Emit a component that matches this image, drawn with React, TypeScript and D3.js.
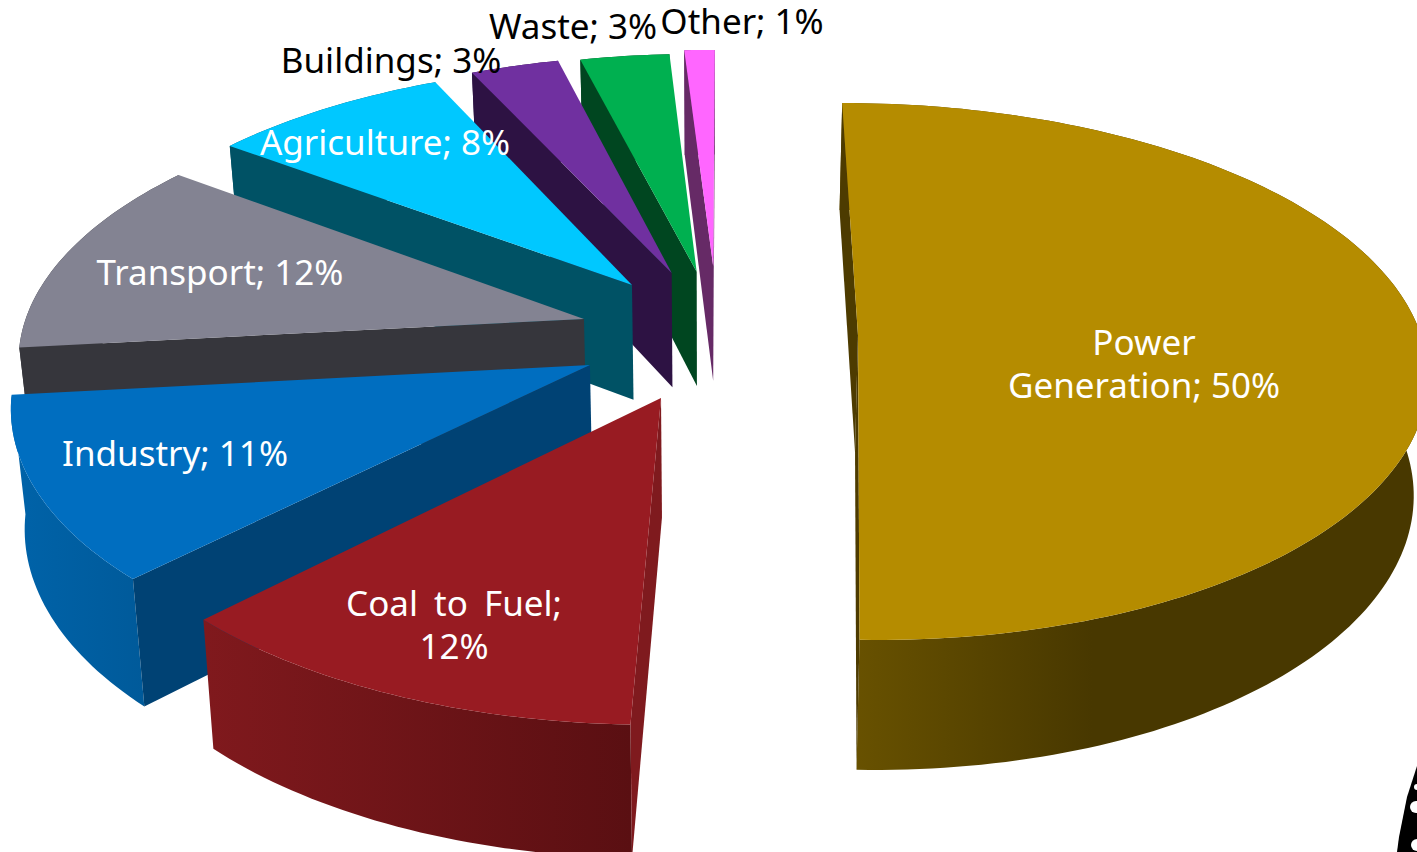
import React from "react";
import * as d3 from "d3";

// ---- data ----
const categories = ["Power Generation", "Coal to Fuel", "Industry", "Transport", "Agriculture", "Buildings", "Waste", "Other"];
const shares = [50.47, 11.94, 10.86, 11.97, 7.89, 2.92, 2.94, 1.0];
const shownPercents = [50, 12, 11, 12, 8, 3, 3, 1];

// ---- styles ----
const topColors = ["#b58c00", "#981b22", "#006ec0", "#838392", "#00c8ff", "#7030a0", "#00b050", "#ff66ff"];
const edgeColors = ["#4d3b00", "#7f1a1e", "#004274", "#36363c", "#005265", "#2d1243", "#004620", "#662a66"];
const rimLeft = ["#6a5300", "#80191d", "#0063a9", "#36363c", "#005265", "#2d1243", "#004620", "#662a66"];
const rimRight = ["#483800", "#5a0f12", "#005a9a", "#36363c", "#005265", "#2d1243", "#004620", "#662a66"];
const labelColors = ["#fff", "#fff", "#fff", "#fff", "#fff", "#000", "#000", "#000"];
const labelLines = [
  ["Power", `Generation; ${shownPercents[0]}%`],
  ["Coal to Fuel;", `${shownPercents[1]}%`],
  [`Industry; ${shownPercents[2]}%`],
  [`Transport; ${shownPercents[3]}%`],
  [`Agriculture; ${shownPercents[4]}%`],
  [`Buildings; ${shownPercents[5]}%`],
  [`Waste; ${shownPercents[6]}%`],
  [`Other; ${shownPercents[7]}%`],
];
const labelX = [1144, 454, 175, 220, 385, 391, 573, 742];
const labelY = [354.5, 616, 466, 285, 155, 73, 39, 34];
const labelWordGap = [0, 7, 0, 0, 0, 0, 0, 0];

// ---- projection: ground plane with perspective, explosion and a thick base ----
const W = 1417;
const H = 852;
const radiusU = 563;
const radiusV = 263.5;
const centreU = 719;
const explodeU = 143;
const explodeV = 67;
const nudgeU = [-4, 0.4, 1.8, 1.7, 0.3, -1.5, -1.2, -1.7];
const nudgeV = [1, 0.6, -0.4, -1.6, -0.8, 0.8, -0.8, 3.8];
const nearFarStretch = 0.0115;
const horizonDepth = 1939;
const vanishX = 726;
const anchorY = 335;
const uScale = d3.scaleLinear().domain([-1, 1]).range([-radiusU, radiusU]);
const vScale = d3.scaleLinear().domain([-1, 1]).range([-radiusV, radiusV]);

type P = [number, number];
function project(U: number, V: number): P {
  const w = 1 + V / horizonDepth;
  return [(U + (vanishX * V) / horizonDepth) / w, anchorY - V / w];
}
// the base plane of the extruded pie
function lower([x, y]: P): P {
  return [x + 0.0198 * (709 - x), y + 0.0428 * (y + 2397)];
}
function area(poly: P[]): number {
  let a = 0;
  poly.forEach((p, i) => {
    const q = poly[(i + 1) % poly.length];
    a += p[0] * q[1] - q[0] * p[1];
  });
  return a;
}

const closed = d3.line<P>().curve(d3.curveLinearClosed);
const arcs = d3.pie<number>().sort(null).value((d) => d)(shares);

const slices = arcs.map((a, i) => {
  const mid = (a.startAngle + a.endAngle) / 2;
  const apexU = centreU + explodeU * Math.sin(mid) + nudgeU[i];
  const apexV = explodeV * Math.cos(mid) + nudgeV[i];
  const steps = Math.max(4, Math.ceil((a.endAngle - a.startAngle) / 0.02));
  const rim = d3.range(steps + 1).map((k) => {
    const t = a.startAngle + ((a.endAngle - a.startAngle) * k) / steps;
    const y = Math.cos(t);
    return project(apexU + uScale(Math.sin(t)) * (1 + nearFarStretch * y), apexV + vScale(y));
  });
  const apex = project(apexU, apexV);
  const rimLow = rim.map(lower);
  const startWall: P[] = [apex, rim[0], rimLow[0], lower(apex)];
  const endWall: P[] = [apex, rim[steps], rimLow[steps], lower(apex)];
  return {
    i,
    top: [apex, ...rim] as P[],
    rimWall: [...rim, ...rimLow.slice().reverse()] as P[],
    startWall,
    endWall,
    showStart: area(startWall) < 0,
    showEnd: area(endWall) > 0,
  };
});

// painter's order: farthest slices first
const drawOrder = [7, 6, 5, 4, 3, 2, 1, 0];

export default function App() {
  return (
    <svg
      width={W}
      height={H}
      viewBox={`0 0 ${W} ${H}`}
      style={{ position: "fixed", left: 0, top: 0, display: "block", background: "#fff" }}
    >
      <defs>
        {categories.map((c, i) => (
          <linearGradient key={c} id={`rim${i}`} x1="0" x2="1" y1="0" y2="0">
            <stop offset="0" stopColor={rimLeft[i]} />
            <stop offset={i === 0 ? 0.43 : 1} stopColor={rimRight[i]} />
            <stop offset="1" stopColor={rimRight[i]} />
          </linearGradient>
        ))}
      </defs>
      {drawOrder.map((k) => {
        const s = slices[k];
        return (
          <g key={categories[k]}>
            <path d={closed(s.rimWall) ?? ""} fill={`url(#rim${k})`} />
            {s.showEnd && <path d={closed(s.endWall) ?? ""} fill={edgeColors[k]} />}
            {s.showStart && <path d={closed(s.startWall) ?? ""} fill={edgeColors[k]} />}
            <path d={closed(s.top) ?? ""} fill={topColors[k]} />
          </g>
        );
      })}
      <g style={{ fontFamily: "'Noto Sans', sans-serif", fontSize: 35 }} textAnchor="middle">
        {labelLines.map((lines, i) => (
          <text key={categories[i]} fill={labelColors[i]}>
            {lines.map((l, j) => (
              <tspan key={l} x={labelX[i]} y={labelY[i] + j * 43} style={{ wordSpacing: labelWordGap[i] }}>
                {l}
              </tspan>
            ))}
          </text>
        ))}
      </g>
      <path d="M1417,766 L1407,797 L1399,837 L1397,852 L1417,852 Z" fill="#000" />
      <circle cx={1416} cy={807} r={6} fill="#fff" />
      <circle cx={1417} cy={845} r={6} fill="#fff" />
      <circle cx={1417} cy={787} r={3} fill="#fff" />
    </svg>
  );
}
